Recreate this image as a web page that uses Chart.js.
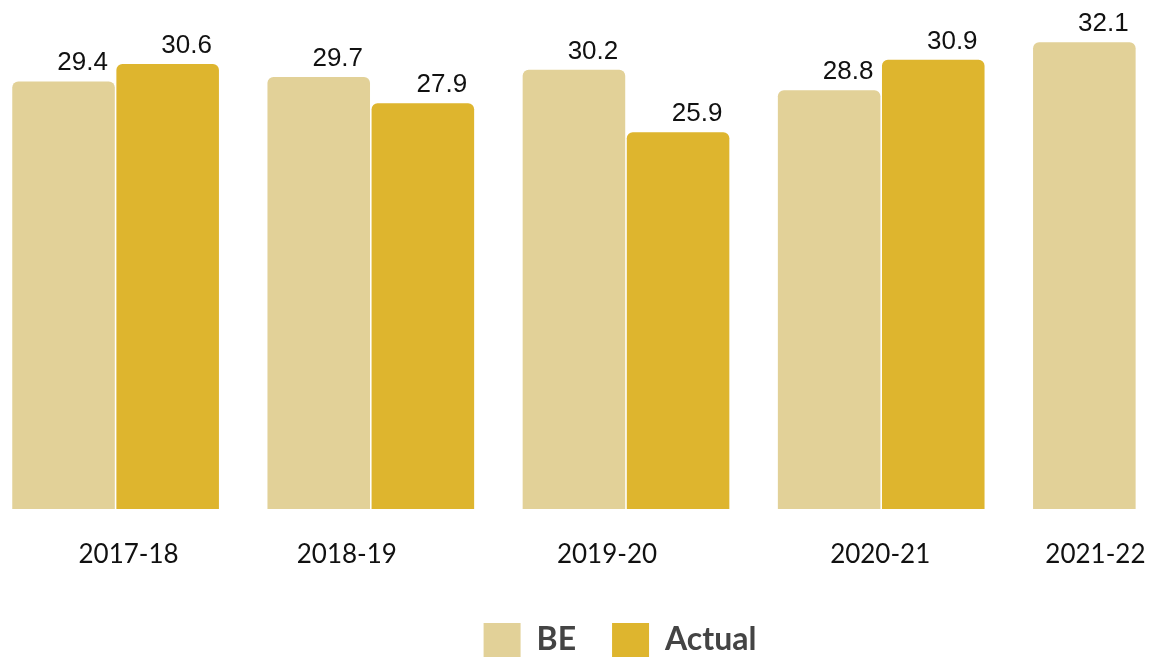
<!DOCTYPE html>
<html>
<head>
<meta charset="utf-8">
<script src="https://cdn.jsdelivr.net/npm/chart.js@4/dist/chart.umd.min.js"></script>
<style>
  html, body { margin: 0; padding: 0; background: #fff; overflow: hidden; }
  #wrap { position: relative; width: 1149px; height: 658px; overflow: hidden; }
  #box { position: absolute; left: -12px; top: 0; width: 1276px; height: 667px; }
</style>
</head>
<body>
<div id="wrap"><div id="box"><canvas id="barChart"></canvas></div></div>
<script>
// данные графика
const years = ['2017-18', '2018-19', '2019-20', '2020-21', '2021-22'];
const beValues = [29.4, 29.7, 30.2, 28.8, 32.1];
const actualValues = [30.6, 27.9, 25.9, 30.9, null];

// сдвиг подписей оси X относительно центра группы (как в оригинале)
const labelShift = [13, -24, -19, -1, -41];

const beColor = '#E2D198';
const actualColor = '#DEB52E';

// подписи значений над столбиками + подписи категорий
const valueLabels = {
    id: 'valueLabels',
    afterLayout(chart) {
        // легенда в оригинале чуть левее центра
        chart.legend.left -= 6;
        chart.legend.right -= 6;
    },
    afterDatasetsDraw(chart) {
        const ctx = chart.ctx;
        ctx.save();
        ctx.font = '26px "Liberation Sans", Arial, sans-serif';
        ctx.fillStyle = '#111';
        ctx.textAlign = 'center';
        ctx.textBaseline = 'alphabetic';
        chart.data.datasets.forEach(function (ds, i) {
            chart.getDatasetMeta(i).data.forEach(function (bar, j) {
                const v = ds.data[j];
                if (v === null || v === undefined) return;
                ctx.fillText(v.toFixed(1), bar.x + 19, bar.y - 11);
            });
        });

        const xScale = chart.scales.x;
        ctx.font = '26px Lato, sans-serif';
        years.forEach(function (y, i) {
            ctx.fillText(y, xScale.getPixelForValue(i) + labelShift[i], chart.chartArea.bottom + 54);
        });
        ctx.restore();
    }
};

const chart = new Chart(document.getElementById('barChart').getContext('2d'), {
    type: 'bar',
    data: {
        labels: years,
        datasets: [
            {
                label: 'BE',
                data: beValues,
                backgroundColor: beColor,
                borderRadius: 6,
                borderSkipped: 'bottom',
                categoryPercentage: 0.816,
                barPercentage: 0.985
            },
            {
                label: 'Actual',
                data: actualValues,
                backgroundColor: actualColor,
                borderRadius: 6,
                borderSkipped: 'bottom',
                categoryPercentage: 0.816,
                barPercentage: 0.985
            }
        ]
    },
    options: {
        responsive: true,
        maintainAspectRatio: false,
        animation: false,
        layout: { padding: 0 },
        scales: {
            x: {
                grid: { display: false, drawTicks: false },
                border: { display: false },
                ticks: { display: false },
                afterFit: function (scale) { scale.height = 78; }
            },
            y: {
                display: false,
                min: 0,
                max: 35
            }
        },
        plugins: {
            tooltip: { enabled: false },
            legend: {
                position: 'bottom',
                labels: {
                    boxWidth: 37,
                    boxHeight: 34,
                    padding: 36,
                    color: '#444',
                    font: { family: 'Lato', size: 32, weight: 'bold' }
                }
            }
        }
    },
    plugins: [valueLabels]
});
</script>
</body>
</html>
